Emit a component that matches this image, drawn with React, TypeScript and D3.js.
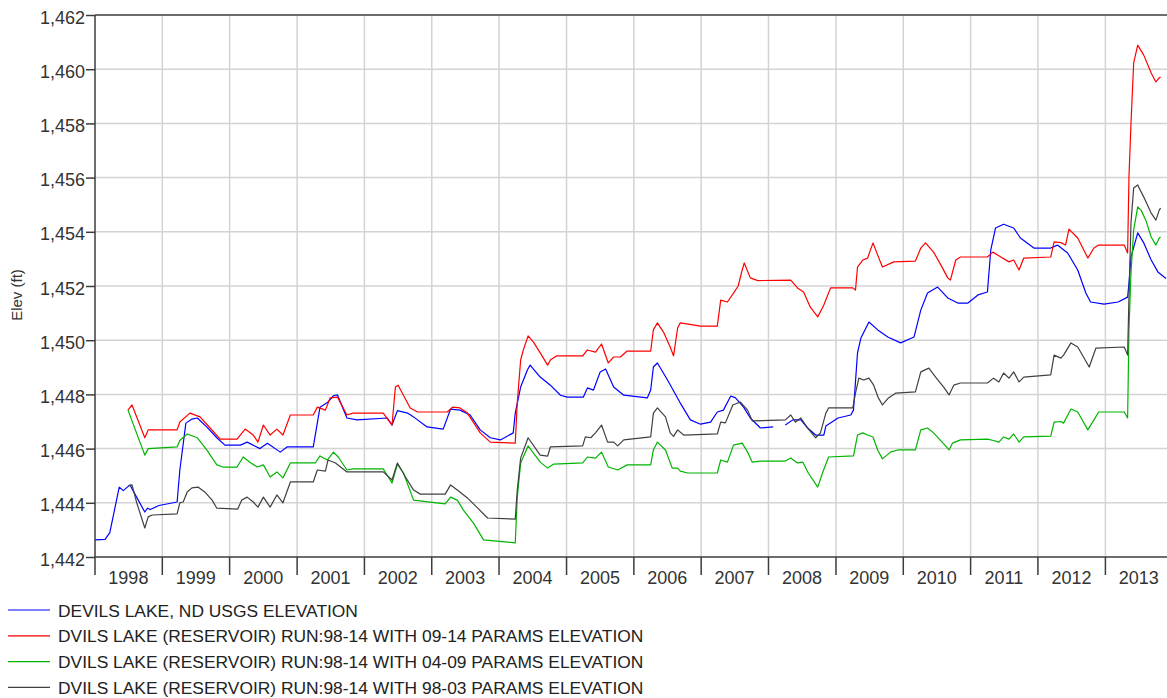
import { useEffect, useRef } from 'react'
import * as d3 from 'd3'

// decimal year, elevation (ft)
const usgs: [number, number | null][] = [
  [1998.0, 1442.63], [1998.15, 1442.65], [1998.22, 1442.9], [1998.27, 1443.5], [1998.36, 1444.58],
  [1998.42, 1444.45], [1998.52, 1444.66], [1998.62, 1444.2], [1998.74, 1443.66], [1998.78, 1443.8],
  [1998.82, 1443.75], [1998.95, 1443.9], [1999.22, 1444.03], [1999.26, 1445.2], [1999.35, 1446.94],
  [1999.44, 1447.09], [1999.52, 1447.13], [1999.66, 1446.8], [1999.81, 1446.4], [1999.93, 1446.13],
  [2000.16, 1446.13], [2000.26, 1446.24], [2000.45, 1446.0], [2000.56, 1446.2], [2000.75, 1445.87],
  [2000.85, 1446.06], [2001.24, 1446.06], [2001.34, 1447.53], [2001.45, 1447.7], [2001.54, 1447.95],
  [2001.6, 1447.98], [2001.74, 1447.13], [2001.89, 1447.06], [2002.34, 1447.13], [2002.41, 1446.87],
  [2002.49, 1447.4], [2002.64, 1447.31], [2002.73, 1447.17], [2002.93, 1446.8], [2003.17, 1446.72],
  [2003.28, 1447.46], [2003.42, 1447.42], [2003.57, 1447.24], [2003.72, 1446.69], [2003.87, 1446.4],
  [2004.02, 1446.32], [2004.21, 1446.58], [2004.24, 1447.31], [2004.32, 1448.27], [2004.42, 1448.9],
  [2004.46, 1449.08], [2004.61, 1448.64], [2004.76, 1448.34], [2004.91, 1447.97], [2005.01, 1447.9],
  [2005.25, 1447.9], [2005.31, 1448.24], [2005.4, 1448.16], [2005.5, 1448.83], [2005.58, 1448.94],
  [2005.7, 1448.27], [2005.85, 1447.97], [2006.2, 1447.87], [2006.25, 1448.16], [2006.29, 1449.01],
  [2006.35, 1449.16], [2006.5, 1448.53], [2006.69, 1447.68], [2006.84, 1447.06], [2006.99, 1446.9],
  [2007.14, 1446.98], [2007.24, 1447.35], [2007.33, 1447.42], [2007.44, 1447.94], [2007.51, 1447.87],
  [2007.63, 1447.53], [2007.73, 1447.13], [2007.88, 1446.76], [2008.07, 1446.8], [2008.16, null],
  [2008.25, 1446.87], [2008.36, 1447.06], [2008.48, 1447.06], [2008.58, 1446.76], [2008.7, 1446.5],
  [2008.82, 1446.5], [2008.85, 1446.83], [2009.03, 1447.13], [2009.22, 1447.24], [2009.26, 1447.42],
  [2009.32, 1449.53], [2009.37, 1450.08], [2009.49, 1450.67], [2009.62, 1450.38], [2009.77, 1450.12],
  [2009.96, 1449.9], [2010.16, 1450.12], [2010.26, 1451.11], [2010.36, 1451.74], [2010.51, 1451.96],
  [2010.66, 1451.56], [2010.81, 1451.37], [2010.96, 1451.37], [2011.11, 1451.67], [2011.25, 1451.78],
  [2011.3, 1453.33], [2011.37, 1454.14], [2011.49, 1454.28], [2011.64, 1454.14], [2011.74, 1453.77],
  [2011.94, 1453.4], [2012.19, 1453.4], [2012.29, 1453.51], [2012.44, 1453.22], [2012.59, 1452.59],
  [2012.71, 1451.74], [2012.78, 1451.41], [2012.98, 1451.33], [2013.19, 1451.41], [2013.33, 1451.59],
  [2013.35, 1452.1], [2013.38, 1453.07], [2013.48, 1453.96], [2013.57, 1453.59], [2013.68, 1452.96],
  [2013.78, 1452.52], [2013.9, 1452.28],
]

const run0914: [number, number][] = [
  [1998.49, 1447.42], [1998.55, 1447.61], [1998.74, 1446.4], [1998.79, 1446.69], [1999.22, 1446.69],
  [1999.26, 1446.98], [1999.41, 1447.31], [1999.56, 1447.17], [1999.71, 1446.76], [1999.86, 1446.35],
  [2000.11, 1446.35], [2000.23, 1446.72], [2000.35, 1446.5], [2000.42, 1446.24], [2000.5, 1446.87],
  [2000.6, 1446.5], [2000.7, 1446.72], [2000.79, 1446.5], [2000.9, 1447.24], [2001.24, 1447.24],
  [2001.3, 1447.53], [2001.42, 1447.42], [2001.49, 1447.87], [2001.6, 1447.9], [2001.74, 1447.24],
  [2001.83, 1447.31], [2002.28, 1447.31], [2002.41, 1446.87], [2002.46, 1448.27], [2002.5, 1448.34],
  [2002.68, 1447.5], [2002.79, 1447.35], [2003.23, 1447.35], [2003.31, 1447.53], [2003.42, 1447.5],
  [2003.53, 1447.31], [2003.72, 1446.58], [2003.87, 1446.24], [2004.24, 1446.2], [2004.27, 1447.7],
  [2004.32, 1449.27], [2004.36, 1449.64], [2004.43, 1450.16], [2004.51, 1449.93], [2004.61, 1449.53],
  [2004.72, 1449.08], [2004.76, 1449.27], [2004.85, 1449.42], [2005.24, 1449.42], [2005.31, 1449.64],
  [2005.43, 1449.56], [2005.52, 1449.86], [2005.62, 1449.16], [2005.7, 1449.38], [2005.8, 1449.38],
  [2005.9, 1449.6], [2006.25, 1449.6], [2006.29, 1450.38], [2006.35, 1450.64], [2006.44, 1450.3],
  [2006.54, 1449.75], [2006.59, 1449.42], [2006.65, 1450.45], [2006.69, 1450.64], [2006.99, 1450.52],
  [2007.24, 1450.52], [2007.29, 1451.48], [2007.39, 1451.41], [2007.48, 1451.74], [2007.55, 1452.0],
  [2007.61, 1452.6], [2007.64, 1452.85], [2007.73, 1452.3], [2007.84, 1452.2], [2008.33, 1452.22],
  [2008.43, 1451.93], [2008.52, 1451.78], [2008.62, 1451.22], [2008.73, 1450.86], [2008.82, 1451.3],
  [2008.92, 1451.93], [2009.25, 1451.93], [2009.29, 1451.85], [2009.32, 1452.7], [2009.4, 1452.96],
  [2009.47, 1453.03], [2009.55, 1453.59], [2009.62, 1453.14], [2009.69, 1452.7], [2009.86, 1452.89],
  [2010.18, 1452.92], [2010.26, 1453.4], [2010.33, 1453.59], [2010.45, 1453.25], [2010.56, 1452.77],
  [2010.66, 1452.3], [2010.7, 1452.22], [2010.78, 1452.96], [2010.85, 1453.07], [2011.25, 1453.07],
  [2011.33, 1453.25], [2011.45, 1453.07], [2011.57, 1452.89], [2011.64, 1452.96], [2011.72, 1452.59],
  [2011.79, 1453.03], [2012.19, 1453.07], [2012.24, 1453.63], [2012.34, 1453.6], [2012.41, 1453.51],
  [2012.46, 1454.1], [2012.59, 1453.77], [2012.74, 1453.03], [2012.83, 1453.4], [2012.9, 1453.51],
  [2013.28, 1453.51], [2013.33, 1453.22], [2013.35, 1456.02], [2013.38, 1458.0], [2013.42, 1460.23],
  [2013.48, 1460.89], [2013.57, 1460.52], [2013.68, 1459.86], [2013.75, 1459.53], [2013.8, 1459.68],
  [2013.82, 1459.71],
]

const run0409: [number, number][] = [
  [1998.49, 1447.42], [1998.74, 1445.76], [1998.79, 1446.0], [1999.22, 1446.06], [1999.26, 1446.3],
  [1999.37, 1446.54], [1999.52, 1446.4], [1999.66, 1445.95], [1999.81, 1445.4], [1999.9, 1445.32],
  [2000.11, 1445.32], [2000.2, 1445.69], [2000.3, 1445.5], [2000.41, 1445.32], [2000.5, 1445.4],
  [2000.6, 1444.95], [2000.7, 1445.14], [2000.79, 1444.92], [2000.9, 1445.47], [2001.27, 1445.47],
  [2001.34, 1445.73], [2001.45, 1445.58], [2001.54, 1445.87], [2001.61, 1445.69], [2001.74, 1445.21],
  [2001.83, 1445.25], [2002.28, 1445.25], [2002.41, 1444.73], [2002.49, 1445.43], [2002.58, 1445.1],
  [2002.73, 1444.1], [2003.2, 1443.96], [2003.28, 1444.21], [2003.38, 1444.1], [2003.47, 1443.73],
  [2003.62, 1443.25], [2003.77, 1442.63], [2004.24, 1442.52], [2004.27, 1444.21], [2004.32, 1445.47],
  [2004.43, 1446.1], [2004.61, 1445.5], [2004.72, 1445.28], [2004.81, 1445.43], [2005.24, 1445.47],
  [2005.31, 1445.69], [2005.43, 1445.65], [2005.52, 1445.87], [2005.62, 1445.32], [2005.76, 1445.21],
  [2005.9, 1445.4], [2006.25, 1445.4], [2006.29, 1445.95], [2006.35, 1446.24], [2006.47, 1445.95],
  [2006.57, 1445.28], [2006.65, 1445.28], [2006.69, 1445.17], [2006.8, 1445.1], [2007.24, 1445.1],
  [2007.29, 1445.58], [2007.39, 1445.5], [2007.48, 1446.13], [2007.61, 1446.2], [2007.69, 1445.87],
  [2007.76, 1445.5], [2007.88, 1445.54], [2008.25, 1445.54], [2008.33, 1445.65], [2008.43, 1445.47],
  [2008.51, 1445.5], [2008.59, 1445.1], [2008.73, 1444.58], [2008.8, 1445.1], [2008.89, 1445.69],
  [2009.26, 1445.73], [2009.32, 1446.5], [2009.4, 1446.58], [2009.47, 1446.5], [2009.55, 1446.43],
  [2009.62, 1445.95], [2009.69, 1445.62], [2009.81, 1445.87], [2009.92, 1445.95], [2010.18, 1445.95],
  [2010.26, 1446.69], [2010.36, 1446.76], [2010.45, 1446.58], [2010.59, 1446.2], [2010.68, 1445.95],
  [2010.73, 1446.2], [2010.85, 1446.32], [2011.25, 1446.35], [2011.34, 1446.3], [2011.42, 1446.24],
  [2011.49, 1446.43], [2011.57, 1446.35], [2011.64, 1446.54], [2011.72, 1446.24], [2011.79, 1446.43],
  [2012.19, 1446.46], [2012.24, 1446.98], [2012.34, 1447.0], [2012.38, 1446.94], [2012.49, 1447.46],
  [2012.59, 1447.35], [2012.74, 1446.69], [2012.83, 1447.06], [2012.9, 1447.35], [2013.28, 1447.35],
  [2013.33, 1447.13], [2013.35, 1450.38], [2013.38, 1452.48], [2013.42, 1454.07], [2013.48, 1454.92],
  [2013.53, 1454.8], [2013.6, 1454.43], [2013.68, 1453.81], [2013.75, 1453.51], [2013.8, 1453.77],
  [2013.82, 1453.81],
]

const run9803: [number, number][] = [
  [1998.49, 1444.62], [1998.55, 1444.66], [1998.62, 1444.0], [1998.74, 1443.07], [1998.79, 1443.48],
  [1998.85, 1443.55], [1999.22, 1443.59], [1999.26, 1444.0], [1999.31, 1444.03], [1999.37, 1444.4],
  [1999.44, 1444.55], [1999.53, 1444.58], [1999.63, 1444.4], [1999.74, 1444.1], [1999.81, 1443.8],
  [2000.12, 1443.77], [2000.18, 1444.1], [2000.26, 1444.21], [2000.35, 1444.03], [2000.42, 1443.84],
  [2000.5, 1444.21], [2000.6, 1443.84], [2000.7, 1444.29], [2000.79, 1444.0], [2000.9, 1444.77],
  [2001.24, 1444.77], [2001.3, 1445.21], [2001.42, 1445.17], [2001.46, 1445.58], [2001.57, 1445.47],
  [2001.74, 1445.14], [2002.28, 1445.14], [2002.41, 1444.84], [2002.49, 1445.47], [2002.61, 1444.95],
  [2002.73, 1444.47], [2002.83, 1444.32], [2003.2, 1444.32], [2003.28, 1444.66], [2003.38, 1444.47],
  [2003.53, 1444.18], [2003.68, 1443.81], [2003.83, 1443.44], [2004.24, 1443.4], [2004.27, 1444.47],
  [2004.32, 1445.65], [2004.43, 1446.4], [2004.61, 1445.76], [2004.72, 1445.72], [2004.76, 1446.06],
  [2005.24, 1446.1], [2005.28, 1446.43], [2005.36, 1446.4], [2005.43, 1446.58], [2005.52, 1446.87],
  [2005.61, 1446.24], [2005.7, 1446.24], [2005.76, 1446.1], [2005.85, 1446.32], [2006.25, 1446.43],
  [2006.29, 1447.31], [2006.35, 1447.5], [2006.47, 1447.17], [2006.54, 1446.58], [2006.59, 1446.45],
  [2006.65, 1446.69], [2006.74, 1446.5], [2007.24, 1446.54], [2007.29, 1446.98], [2007.36, 1446.95],
  [2007.47, 1447.61], [2007.58, 1447.72], [2007.69, 1447.42], [2007.76, 1447.02], [2008.25, 1447.06],
  [2008.33, 1447.24], [2008.4, 1446.98], [2008.48, 1447.13], [2008.58, 1446.76], [2008.7, 1446.4],
  [2008.77, 1446.58], [2008.85, 1447.31], [2008.89, 1447.5], [2009.25, 1447.5], [2009.29, 1448.05],
  [2009.34, 1448.6], [2009.41, 1448.53], [2009.49, 1448.6], [2009.56, 1448.34], [2009.63, 1447.87],
  [2009.69, 1447.61], [2009.78, 1447.87], [2009.89, 1448.05], [2010.18, 1448.09], [2010.26, 1448.83],
  [2010.38, 1448.97], [2010.48, 1448.64], [2010.6, 1448.27], [2010.68, 1447.98], [2010.75, 1448.34],
  [2010.85, 1448.42], [2011.25, 1448.42], [2011.34, 1448.6], [2011.42, 1448.46], [2011.49, 1448.79],
  [2011.57, 1448.6], [2011.64, 1448.83], [2011.72, 1448.46], [2011.79, 1448.64], [2012.19, 1448.72],
  [2012.24, 1449.45], [2012.34, 1449.34], [2012.38, 1449.45], [2012.49, 1449.9], [2012.59, 1449.75],
  [2012.76, 1449.01], [2012.86, 1449.71], [2013.28, 1449.75], [2013.33, 1449.45], [2013.35, 1451.59],
  [2013.38, 1454.33], [2013.42, 1455.62], [2013.48, 1455.73], [2013.57, 1455.28], [2013.68, 1454.69],
  [2013.75, 1454.43], [2013.8, 1454.8], [2013.82, 1454.88],
]

const seriesNames = [
  'DEVILS LAKE, ND USGS ELEVATION',
  'DVILS LAKE (RESERVOIR) RUN:98-14 WITH 09-14 PARAMS ELEVATION',
  'DVILS LAKE (RESERVOIR) RUN:98-14 WITH 04-09 PARAMS ELEVATION',
  'DVILS LAKE (RESERVOIR) RUN:98-14 WITH 98-03 PARAMS ELEVATION',
]
const seriesColors = ['#0000ff', '#ff0000', '#00b400', '#404040']
const yTicks = [1442, 1444, 1446, 1448, 1450, 1452, 1454, 1456, 1458, 1460, 1462]
const years = d3.range(1998, 2014)

const W = 1167
const H = 698
const font = "'Liberation Sans', Arial, sans-serif"

function toDate(t: number) {
  const yr = Math.floor(t)
  const start = Date.UTC(yr, 0, 1)
  const end = Date.UTC(yr + 1, 0, 1)
  return new Date(start + (t - yr) * (end - start))
}

export default function App() {
  const ref = useRef<SVGSVGElement>(null)

  useEffect(() => {
    const svg = d3.select(ref.current)
    svg.selectAll('*').remove()

    const left = 95, top = 15, bottom = 557, right = W

    const x = d3.scaleUtc().domain([new Date(Date.UTC(1998, 0, 1)), new Date(Date.UTC(2013, 11, 1))]).range([left, right])
    const y = d3.scaleLinear().domain([1442, 1462]).range([bottom, top])

    const yearStarts = years.slice(1).map(yr => new Date(Date.UTC(yr, 0, 1)))

    // grid
    const grid = svg.append('g').attr('stroke', '#d3d3d3').attr('stroke-width', 1.5)
    grid.selectAll('.hg').data(yTicks.slice(1, -1)).enter().append('line')
      .attr('x1', left).attr('x2', right)
      .attr('y1', d => y(d)).attr('y2', d => y(d))
    grid.selectAll('.vg').data(yearStarts).enter().append('line')
      .attr('x1', d => x(d)).attr('x2', d => x(d))
      .attr('y1', top).attr('y2', bottom)

    // series
    const all = [usgs, run0914, run0409, run9803]
    const line = d3.line<[number, number | null]>()
      .defined(d => d[1] !== null)
      .x(d => x(toDate(d[0])))
      .y(d => y(d[1] as number))

    all.forEach((data, i) => {
      svg.append('path')
        .datum(data)
        .attr('fill', 'none')
        .attr('stroke', seriesColors[i])
        .attr('stroke-width', 1.2)
        .attr('stroke-linejoin', 'round')
        .attr('d', line as any)
    })

    // frame
    const axisColor = '#3c3c3c'
    svg.append('line').attr('x1', left).attr('x2', right).attr('y1', top).attr('y2', top)
      .attr('stroke', axisColor).attr('stroke-width', 1.5)
    svg.append('line').attr('x1', left).attr('x2', right).attr('y1', bottom).attr('y2', bottom)
      .attr('stroke', axisColor).attr('stroke-width', 1.5)
    svg.append('line').attr('x1', left).attr('x2', left).attr('y1', top).attr('y2', 575)
      .attr('stroke', axisColor).attr('stroke-width', 1.5)

    // y axis
    const yAxis = svg.append('g')
      .attr('transform', `translate(${left},0)`)
      .call(d3.axisLeft(y).tickValues(yTicks).tickFormat(d3.format(',')).tickSize(9).tickPadding(1))
    yAxis.select('.domain').remove()
    yAxis.selectAll('line').attr('stroke', axisColor).attr('stroke-width', 1.5)
    yAxis.selectAll('text')
      .attr('font-family', font).attr('font-size', '18px').attr('fill', '#333').attr('dy', '0.45em')

    // x ticks and labels
    svg.append('g').selectAll('line').data(yearStarts).enter().append('line')
      .attr('x1', d => x(d)).attr('x2', d => x(d))
      .attr('y1', bottom).attr('y2', 575)
      .attr('stroke', axisColor).attr('stroke-width', 1.5)

    svg.append('g').selectAll('text').data(years).enter().append('text')
      .attr('x', d => x(new Date(Date.UTC(d, 6, 1))))
      .attr('y', 584)
      .attr('text-anchor', 'middle')
      .attr('font-family', font).attr('font-size', '18px').attr('fill', '#333')
      .text(d => String(d))

    // y label
    svg.append('text')
      .attr('transform', 'translate(22,295) rotate(-90)')
      .attr('text-anchor', 'middle')
      .attr('font-family', font).attr('font-size', '15px').attr('fill', '#333')
      .text('Elev (ft)')

    // legend
    const legend = svg.append('g')
    seriesNames.forEach((name, i) => {
      const ly = 610 + i * 25.8
      legend.append('line').attr('x1', 8).attr('x2', 50).attr('y1', ly).attr('y2', ly)
        .attr('stroke', seriesColors[i]).attr('stroke-width', 1.2)
      legend.append('text').attr('x', 58).attr('y', ly + 6.5)
        .attr('font-family', font).attr('font-size', '17.4px').attr('fill', '#222')
        .text(name)
    })
  }, [])

  return (
    <svg ref={ref} width={W} height={H}
      style={{ position: 'absolute', left: 0, top: 0, background: '#fff' }} />
  )
}
